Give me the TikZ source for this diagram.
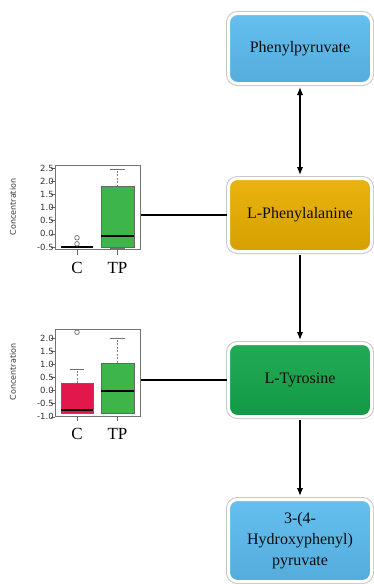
\documentclass[tikz,border=0pt]{standalone}
\usepackage{fontspec}
\setmainfont{Liberation Serif}
\newfontfamily\plotfont{DejaVu Sans}
\usepackage{tikz}
\usetikzlibrary{arrows.meta,positioning}
\definecolor{pyrblue}{HTML}{5BBBEE}
\definecolor{phegold}{HTML}{E8AE00}
\definecolor{tyrgreen}{HTML}{14A64B}
\definecolor{ctrlred}{HTML}{E2174B}
\definecolor{tpgreen}{HTML}{3EB54B}

\begin{document}
\begin{tikzpicture}[x=1pt, y=1pt, >={Latex[length=8pt,width=6.5pt]},
  met/.style={rectangle, rounded corners=9pt, minimum width=143pt, line width=3pt, draw=white,
    top color=#1!94!white, bottom color=#1!92!black, preaction={draw=black!22, line width=5pt},
    align=center, text=black!95, font=\fontsize{16}{21}\selectfont, inner sep=2pt},
  flow/.style={line width=1.5pt, shorten >=2pt, shorten <=2pt},
  link/.style={line width=1.5pt},
  plotframe/.style={draw=black!55, line width=0.7pt, inner sep=0pt, minimum width=85pt, anchor=south west},
  ticklab/.style={font=\plotfont\fontsize{8.5}{9}\selectfont, text=black!80, anchor=east, inner sep=1pt},
  xlab/.style={font=\fontsize{17}{18}\selectfont},
  ylab/.style={font=\plotfont\fontsize{8}{9}\selectfont, text=black!80, rotate=90},
  pbox/.style={draw=black!60, line width=0.6pt},
  med/.style={line width=2pt},
  whisk/.style={draw=black!50, line width=1pt, dash pattern=on 2pt off 1.5pt},
  whiskcap/.style={draw=black!55, line width=0.9pt},
  outl/.style={draw=black!60, line width=0.7pt}]
  \useasboundingbox (0,0) rectangle (374,-584);

  % metabolites
  \node[met=pyrblue, minimum height=70pt] (pyr) at (300,-48.5) {Phenylpyruvate};
  \node[met=phegold, minimum height=73pt] (phe) [below=92pt of pyr] {L-Phenylalanine};
  \node[met=tyrgreen, minimum height=73pt] (tyr) [below=89pt of phe] {L-Tyrosine};
  \node[met=pyrblue, minimum height=82pt] (hpp) [below=80pt of tyr] {3-(4-\\Hydroxyphenyl)\\pyruvate};

  \draw[flow, <->] (pyr) -- (phe);
  \draw[flow, ->] (phe) -- (tyr);
  \draw[flow, ->] (tyr) -- (hpp);

  % L-Phenylalanine plot
  \begin{scope}[shift={(0,-233.85)}, y=26.3pt]
    \node[plotframe, minimum height=84.7pt] (pheplot) at (55,-0.62) {};
    \foreach \v [count=\i] in {-0.5,0.0,0.5,1.0,1.5,2.0,2.5}
      \draw[line width=0.6pt, black!60] (51,\v) -- (55,\v) node[ticklab] (phet\i) {\v};
    \node[ylab] (pheylab) at (13,1.02) {Concentration};
    \draw[med] (61,-0.5) -- (93,-0.5);
    \draw[outl] (77,-0.15) circle (2.3pt) (77,-0.38) circle (2.3pt);
    \draw[whisk] (117.5,1.8) -- (117.5,2.45);
    \draw[whiskcap] (110,2.45) -- (125,2.45) (110,-0.55) -- (125,-0.55);
    \filldraw[pbox, fill=tpgreen] (101,-0.5) rectangle (134,1.8);
    \draw[med] (101,-0.08) -- (134,-0.08);
    \draw[line width=0.6pt, black!60] (77,-0.62) -- ++(0,-5pt) (117.5,-0.62) -- ++(0,-5pt);
    \node[xlab] (phec) at (77,-0.62) [yshift=-18pt] {C};
    \node[xlab] (phetp) at (117.5,-0.62) [yshift=-18pt] {TP};
  \end{scope}

  % L-Tyrosine plot
  \begin{scope}[shift={(0,-390.6)}, y=26.3pt]
    \node[plotframe, minimum height=86.8pt] (tyrplot) at (55,-0.98) {};
    \foreach \v [count=\i] in {-1.0,-0.5,0.0,0.5,1.0,1.5,2.0}
      \draw[line width=0.6pt, black!60] (51,\v) -- (55,\v) node[ticklab] (tyrt\i) {\v};
    \node[ylab] (tyrylab) at (13,0.71) {Concentration};
    \draw[whisk] (77,0.28) -- (77,0.82);
    \draw[whiskcap] (70,0.82) -- (84,0.82);
    \filldraw[pbox, fill=ctrlred] (61,-0.85) rectangle (93,0.28);
    \draw[med] (61,-0.75) -- (93,-0.75);
    \draw[outl] (77,2.22) circle (2.3pt);
    \draw[whisk] (117.5,1.05) -- (117.5,2.0);
    \draw[whiskcap] (110,2.0) -- (125,2.0);
    \filldraw[pbox, fill=tpgreen] (101,-0.85) rectangle (134,1.05);
    \draw[med] (101,0) -- (134,0);
    \draw[line width=0.6pt, black!60] (77,-0.98) -- ++(0,-5pt) (117.5,-0.98) -- ++(0,-5pt);
    \node[xlab] (tyrc) at (77,-0.98) [yshift=-18pt] {C};
    \node[xlab] (tyrtp) at (117.5,-0.98) [yshift=-18pt] {TP};
  \end{scope}

  \draw[link] (phe.west) -- (phe.west -| pheplot.east);
  \draw[link] (tyr.west) -- (tyr.west -| tyrplot.east);
\end{tikzpicture}
\end{document}
